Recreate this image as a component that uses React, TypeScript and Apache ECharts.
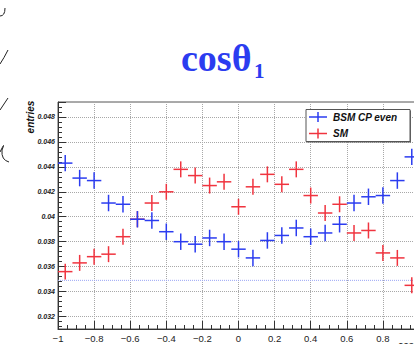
import React, { useEffect, useRef } from 'react';
import * as echarts from 'echarts';

// ---- data ----
const BIN_CENTERS = [
  -0.96, -0.88, -0.8, -0.72, -0.64, -0.56, -0.48, -0.4, -0.32, -0.24, -0.16, -0.08, 0,
  0.08, 0.16, 0.24, 0.32, 0.4, 0.48, 0.56, 0.64, 0.72, 0.8, 0.88, 0.96,
];
const BSM_VALUES = [
  0.0443, 0.0431, 0.0429, 0.0411, 0.041, 0.0398, 0.0397, 0.0388, 0.038, 0.0378, 0.0383, 0.038, 0.0374,
  0.0367, 0.0381, 0.0385, 0.0391, 0.0384, 0.0387, 0.0394, 0.0411, 0.0416, 0.0417, 0.0429, 0.0448,
];
const SM_VALUES = [
  0.0356, 0.0363, 0.0368, 0.037, 0.0384, 0.0398, 0.0411, 0.042, 0.0438, 0.0433, 0.0425, 0.0428, 0.0408,
  0.0424, 0.0434, 0.0426, 0.0438, 0.0417, 0.0403, 0.041, 0.0387, 0.0389, 0.0371, 0.0367, 0.0345,
];
const BSM_ERRORS = BSM_VALUES.map(() => 0.00066);
const SM_ERRORS = SM_VALUES.map(() => 0.00064);
const BIN_HALF_WIDTH = 0.04;
const REF_LEVEL = 0.0349;
const SERIES_NAMES = ['BSM CP even', 'SM'];
const TITLE_MAIN = 'cosθ';
const TITLE_SUB = '1';
const Y_NAME = 'entries';
const X_NAME = 'cosθ₁';

const BLUE = '#2b3cf0';
const RED = '#f0343f';

const fmtX = (v: number) => {
  const r = Math.round(v * 10) / 10;
  if (r === 0) return '0';
  return (r < 0 ? '\u2212' : '') + String(Math.abs(r));
};
const fmtY = (v: number) => {
  const k = v / 0.002;
  if (Math.abs(k - Math.round(k)) > 1e-6) return '';
  return String(Math.round(v * 10000) / 10000);
};

const renderItem = (params: any, api: any) => {
  const x = api.value(0);
  const y = api.value(1);
  const e = api.value(2);
  const l = api.coord([x - BIN_HALF_WIDTH, y]);
  const r = api.coord([x + BIN_HALF_WIDTH, y]);
  const t = api.coord([x, y + e]);
  const b = api.coord([x, y - e]);
  const style = { stroke: api.visual('color'), lineWidth: 1.5 };
  return {
    type: 'group',
    children: [
      { type: 'line', shape: { x1: l[0], y1: l[1], x2: r[0], y2: r[1] }, style },
      { type: 'line', shape: { x1: t[0], y1: t[1], x2: b[0], y2: b[1] }, style },
    ],
  };
};

export default function App() {
  const ref = useRef<HTMLDivElement>(null);
  useEffect(() => {
    if (!ref.current) return;
    const chart = echarts.init(ref.current, undefined, { renderer: 'svg' });
    const bsmData = BIN_CENTERS.map((x, i) => [x, BSM_VALUES[i], BSM_ERRORS[i]]);
    const smData = BIN_CENTERS.map((x, i) => [x, SM_VALUES[i], SM_ERRORS[i]]);
    const labelFont = { fontFamily: 'Liberation Sans', color: '#222' };
    const legendText = {
      fontFamily: 'Liberation Sans',
      fontWeight: 'bold',
      fontStyle: 'italic',
      fontSize: 10,
      fill: '#111',
      verticalAlign: 'middle',
    };
    const strokeInk = { stroke: '#222', lineWidth: 1 };
    chart.setOption({
      animation: false,
      backgroundColor: '#fff',
      grid: {
        left: 58,
        top: 102,
        right: 12,
        bottom: 15,
        show: true,
        borderColor: '#555',
        borderWidth: 1,
        containLabel: false,
      },
      xAxis: {
        type: 'value',
        min: -1,
        max: 1,
        interval: 0.2,
        axisLine: { show: true, onZero: false, lineStyle: { color: '#333', width: 1 } },
        axisTick: { show: true, inside: true, length: 8, lineStyle: { color: '#333' } },
        minorTick: { show: true, splitNumber: 4, length: 4, lineStyle: { color: '#333' } },
        splitLine: { show: true, lineStyle: { color: '#a8a8a8', type: 'dotted', width: 1 } },
        minorSplitLine: { show: false },
        axisLabel: { ...labelFont, fontSize: 9.5, margin: 4, formatter: fmtX, showMaxLabel: false },
      },
      yAxis: [
        {
          type: 'value',
          min: 0.031,
          max: 0.0492,
          splitNumber: 9,
          minInterval: 0.002,
          maxInterval: 0.002,
          axisLine: { show: true, onZero: false, lineStyle: { color: '#333', width: 1 } },
          axisTick: { show: true, inside: true, length: 8, lineStyle: { color: '#333' } },
          splitLine: { show: true, lineStyle: { color: '#a8a8a8', type: 'dotted', width: 1 } },
          axisLabel: {
            ...labelFont,
            fontSize: 7,
            fontWeight: 'bold',
            fontStyle: 'italic',
            margin: 3,
            formatter: fmtY,
          },
        },
        {
          type: 'value',
          position: 'left',
          min: 0.031,
          max: 0.0492,
          splitNumber: 45,
          minInterval: 0.0004,
          maxInterval: 0.0004,
          axisLine: { show: false, onZero: false },
          axisTick: { show: true, inside: true, length: 4, lineStyle: { color: '#333' } },
          axisLabel: { show: false },
          splitLine: { show: false },
        },
      ],
      series: [
        {
          type: 'line',
          name: 'ref',
          data: [
            [-1, REF_LEVEL],
            [1, REF_LEVEL],
          ],
          symbol: 'none',
          silent: true,
          lineStyle: { color: '#9aa6f5', type: 'dotted', width: 1 },
          z: 1,
        },
        {
          type: 'custom',
          name: SERIES_NAMES[0],
          renderItem,
          data: bsmData,
          encode: { x: 0, y: 1 },
          itemStyle: { color: BLUE },
          z: 3,
        },
        {
          type: 'custom',
          name: SERIES_NAMES[1],
          renderItem,
          data: smData,
          encode: { x: 0, y: 1 },
          itemStyle: { color: RED },
          z: 2,
        },
      ],
      graphic: [
        // title
        {
          type: 'text',
          x: 181,
          y: 58,
          style: {
            text: TITLE_MAIN,
            fontFamily: 'Liberation Serif',
            fontWeight: 'bold',
            fontSize: 38,
            fill: BLUE,
            verticalAlign: 'middle',
          },
        },
        {
          type: 'text',
          x: 254,
          y: 71,
          style: {
            text: TITLE_SUB,
            fontFamily: 'Liberation Serif',
            fontWeight: 'bold',
            fontSize: 21,
            fill: BLUE,
            verticalAlign: 'middle',
          },
        },
        // y axis name
        {
          type: 'text',
          x: 30,
          y: 117,
          rotation: Math.PI / 2,
          style: {
            text: Y_NAME,
            fontFamily: 'Liberation Sans',
            fontWeight: 'bold',
            fontStyle: 'italic',
            fontSize: 10,
            fill: '#111',
            align: 'center',
            verticalAlign: 'middle',
          },
        },
        // x axis name (mostly cropped by the picture's edge)
        {
          type: 'text',
          x: 398,
          y: 340,
          style: {
            text: X_NAME,
            fontFamily: 'Liberation Sans',
            fontWeight: 'bold',
            fontStyle: 'italic',
            fontSize: 9,
            fill: '#333',
            verticalAlign: 'top',
          },
        },
        // legend
        {
          type: 'rect',
          shape: { x: 307, y: 110.5, width: 104, height: 32 },
          style: { fill: '#666' },
          z: 100,
        },
        {
          type: 'rect',
          shape: { x: 306, y: 109.5, width: 104, height: 32 },
          style: { fill: '#fff', stroke: '#555', lineWidth: 1 },
          z: 101,
        },
        { type: 'line', shape: { x1: 309, y1: 117, x2: 327, y2: 117 }, style: { stroke: BLUE, lineWidth: 1.5 }, z: 102 },
        { type: 'line', shape: { x1: 318, y1: 112, x2: 318, y2: 122 }, style: { stroke: BLUE, lineWidth: 1.5 }, z: 102 },
        { type: 'line', shape: { x1: 309, y1: 133.5, x2: 327, y2: 133.5 }, style: { stroke: RED, lineWidth: 1.5 }, z: 102 },
        { type: 'line', shape: { x1: 318, y1: 128.5, x2: 318, y2: 138.5 }, style: { stroke: RED, lineWidth: 1.5 }, z: 102 },
        { type: 'text', x: 333, y: 117, style: { ...legendText, text: SERIES_NAMES[0] }, z: 102 },
        { type: 'text', x: 333, y: 133.5, style: { ...legendText, text: SERIES_NAMES[1] }, z: 102 },
        // stray strokes from neighbouring slide content at the left edge
        {
          type: 'bezierCurve',
          shape: { x1: 0, y1: 16, cpx1: 5, cpy1: 16, x2: 5, y2: 8 },
          style: { ...strokeInk, fill: 'none' },
        },
        {
          type: 'bezierCurve',
          shape: { x1: 0, y1: 64, cpx1: 4, cpy1: 58, x2: 8, y2: 50 },
          style: { ...strokeInk, fill: 'none' },
        },
        {
          type: 'bezierCurve',
          shape: { x1: 0, y1: 110, cpx1: 4, cpy1: 104, x2: 8, y2: 98 },
          style: { ...strokeInk, fill: 'none' },
        },
        {
          type: 'bezierCurve',
          shape: { x1: 0, y1: 152, cpx1: 6, cpy1: 140, x2: 2, y2: 150 },
          style: { ...strokeInk, fill: 'none' },
        },
        {
          type: 'bezierCurve',
          shape: { x1: 2, y1: 150, cpx1: 1, cpy1: 160, x2: 9, y2: 162 },
          style: { ...strokeInk, fill: 'none' },
        },
      ],
    });
    return () => chart.dispose();
  }, []);
  return (
    <div style={{ position: 'fixed', left: 0, top: 0, width: 414, height: 344, overflow: 'hidden' }}>
      <div ref={ref} style={{ width: 431, height: 344 }} />
    </div>
  );
}
